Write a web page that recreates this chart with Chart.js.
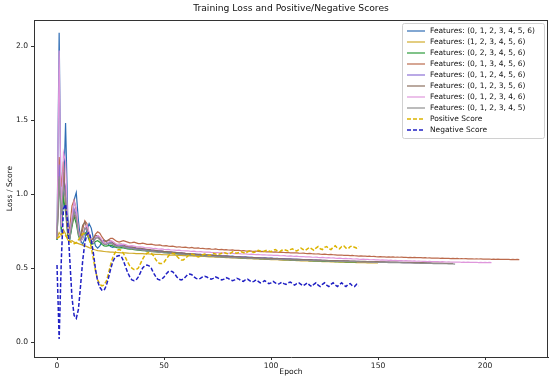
<!DOCTYPE html>
<html><head><meta charset="utf-8">
<script src="https://cdn.jsdelivr.net/npm/chart.js@4/dist/chart.umd.min.js"></script>
<style>html,body{margin:0;padding:0;background:#fff}#wrap{width:550px;height:381px}</style>
</head><body><div id="wrap"><canvas id="c" width="550" height="381"></canvas></div>
<script>
const chartTitle = "Training Loss and Positive/Negative Scores";
const xAxisLabel = "Epoch";
const yAxisLabel = "Loss / Score";
const xTicks = [0, 50, 100, 150, 200];
const yTicks = [0.0, 0.5, 1.0, 1.5, 2.0];
const seriesLabels = [
  "Features: (0, 1, 2, 3, 4, 5, 6)",
  "Features: (1, 2, 3, 4, 5, 6)",
  "Features: (0, 2, 3, 4, 5, 6)",
  "Features: (0, 1, 3, 4, 5, 6)",
  "Features: (0, 1, 2, 4, 5, 6)",
  "Features: (0, 1, 2, 3, 5, 6)",
  "Features: (0, 1, 2, 3, 4, 6)",
  "Features: (0, 1, 2, 3, 4, 5)",
  "Positive Score",
  "Negative Score"
];

const loss0123456 = [
0.69,2.09,0.74,0.98,1.48,0.86,0.70,0.80,0.96,1.01,
0.82,0.69,0.66,0.70,0.76,0.80,0.77,0.70,0.65,0.635,
0.65,0.675,0.69,0.68,0.66,0.645,0.64,0.645,0.655,0.66,
0.655,0.645,0.638,0.635,0.637,0.64,0.636,0.63,0.627,0.628,
0.626,0.622,0.62,0.621,0.618,0.615,0.616,0.613,0.611,0.612,
0.61,0.607,0.608,0.605,0.604,0.605,0.602,0.6,0.601,0.598,
0.597,0.598,0.595,0.594,0.595,0.592,0.591,0.592,0.589,0.588,
0.589,0.587,0.586,0.587,0.584,0.583,0.584,0.582,0.581,0.582,
0.58,0.579,0.58,0.577,0.576,0.577,0.575,0.574,0.575,0.573,
0.572,0.573,0.571,0.57,0.571,0.569,0.568,0.569,0.567,0.566,
0.567,0.565,0.564,0.565,0.563,0.562,0.563,0.561,0.56,0.561,
0.559,0.558,0.559,0.557,0.556,0.557,0.555,0.554,0.555,0.553,
0.552,0.553,0.551,0.55,0.551,0.549,0.548,0.549,0.547];

const loss123456 = [
0.70,0.74,0.72,0.76,0.73,0.69,0.68,0.685,0.675,0.67,
0.665,0.66,0.655,0.65,0.645,0.638,0.632,0.627,0.622,0.618,
0.616,0.614,0.612,0.61,0.609,0.608,0.607,0.606,0.605,0.604,
0.603,0.603,0.602,0.601,0.6,0.6,0.599,0.598,0.598,0.597,
0.597,0.596,0.596,0.595,0.594,0.594,0.593,0.592,0.592,0.591,
0.59,0.59,0.589,0.588,0.588,0.587,0.586,0.586,0.585,0.584,
0.584,0.583,0.582,0.582,0.581,0.58,0.58,0.579,0.578,0.578,
0.577,0.576,0.576,0.575,0.574,0.574,0.573,0.572,0.572,0.571,
0.57,0.57,0.569,0.568,0.568,0.567,0.566,0.566,0.565,0.564,
0.564,0.563,0.562,0.562,0.561,0.56,0.56,0.559,0.559,0.558,
0.557,0.557,0.556,0.556,0.555,0.554,0.554,0.553,0.553,0.552,
0.552,0.551,0.55,0.55,0.549,0.549,0.548,0.548,0.547,0.547,
0.546,0.546,0.545,0.545,0.544,0.544,0.543,0.543,0.542,0.542,
0.541,0.541,0.54,0.54,0.54,0.539,0.539,0.538,0.538,0.538,
0.537,0.537,0.536,0.536,0.536,0.535,0.535,0.535,0.534,0.534,0.534];

const loss023456 = [
0.69,1.15,0.76,0.98,0.88,0.72,0.70,0.78,0.85,0.80,
0.72,0.68,0.70,0.74,0.73,0.69,0.66,0.665,0.68,0.685,
0.675,0.66,0.65,0.648,0.652,0.655,0.65,0.643,0.638,0.637,
0.638,0.636,0.632,0.629,0.628,0.627,0.625,0.622,0.621,0.62,
0.618,0.617,0.615,0.614,0.613,0.611,0.61,0.609,0.607,0.606,
0.605,0.604,0.602,0.601,0.6,0.599,0.598,0.596,0.595,0.594,
0.593,0.592,0.591,0.59,0.589,0.588,0.587,0.586,0.585,0.584,
0.583,0.582,0.581,0.58,0.579,0.579,0.578,0.577,0.576,0.575,
0.575,0.574,0.573,0.572,0.572,0.571,0.57,0.569,0.569,0.568,
0.567,0.567,0.566,0.565,0.565,0.564,0.563,0.563,0.562,0.561,
0.561,0.56,0.56,0.559,0.558,0.558,0.557,0.557,0.556,0.555,
0.555,0.554,0.554,0.553,0.553,0.552,0.551,0.551,0.55,0.55,
0.549,0.549,0.548,0.548,0.547,0.547,0.546,0.546,0.545,0.545,
0.544,0.544,0.543,0.543,0.543,0.542,0.542,0.541,0.541,0.541,0.54];

const loss013456 = [
0.70,1.25,1.05,1.22,0.92,0.74,0.78,0.92,0.96,0.89,
0.75,0.70,0.76,0.82,0.80,0.73,0.69,0.70,0.73,0.745,
0.735,0.71,0.69,0.68,0.69,0.70,0.70,0.69,0.68,0.675,
0.68,0.685,0.68,0.675,0.67,0.672,0.675,0.67,0.665,0.665,
0.668,0.665,0.66,0.66,0.662,0.658,0.655,0.655,0.657,0.652,
0.65,0.652,0.648,0.646,0.648,0.645,0.642,0.644,0.641,0.64,
0.641,0.638,0.637,0.639,0.635,0.634,0.636,0.632,0.633,0.631,
0.63,0.631,0.628,0.627,0.629,0.626,0.625,0.626,0.623,0.624,
0.622,0.621,0.623,0.62,0.619,0.62,0.617,0.618,0.616,0.615,
0.616,0.614,0.613,0.615,0.612,0.611,0.612,0.61,0.609,0.61,
0.609,0.608,0.609,0.607,0.606,0.607,0.605,0.604,0.605,0.603,
0.603,0.602,0.603,0.601,0.6,0.601,0.599,0.598,0.599,0.597,
0.596,0.595,0.596,0.594,0.593,0.594,0.592,0.591,0.592,0.59,
0.589,0.588,0.587,0.588,0.586,0.585,0.586,0.584,0.585,0.583,
0.582,0.581,0.582,0.58,0.581,0.579,0.58,0.578,0.579,0.577,
0.576,0.577,0.575,0.576,0.574,0.575,0.574,0.575,0.573,0.574,
0.573,0.574,0.572,0.573,0.571,0.572,0.571,0.572,0.57,0.571,
0.57,0.569,0.57,0.568,0.569,0.567,0.568,0.567,0.568,0.566,
0.567,0.566,0.565,0.566,0.564,0.565,0.564,0.565,0.563,0.564,
0.563,0.564,0.562,0.563,0.562,0.561,0.562,0.561,0.562,0.56,
0.561,0.56,0.561,0.559,0.56,0.559,0.56,0.558,0.559,0.558,
0.559,0.558,0.557,0.558,0.557,0.558,0.557];

const loss012456 = [
0.70,1.20,0.82,1.10,1.05,0.78,0.72,0.82,0.90,0.86,
0.74,0.69,0.71,0.76,0.77,0.72,0.68,0.68,0.705,0.715,
0.70,0.68,0.665,0.662,0.67,0.675,0.668,0.658,0.652,0.65,
0.652,0.65,0.645,0.641,0.64,0.638,0.635,0.633,0.632,0.63,
0.628,0.626,0.625,0.623,0.621,0.62,0.618,0.617,0.615,0.614,
0.612,0.611,0.61,0.608,0.607,0.606,0.604,0.603,0.602,0.601,
0.599,0.598,0.597,0.596,0.595,0.594,0.593,0.592,0.591,0.59,
0.589,0.588,0.587,0.586,0.585,0.584,0.583,0.583,0.582,0.581,
0.58,0.579,0.578,0.578,0.577,0.576,0.575,0.575,0.574,0.573,
0.572,0.572,0.571,0.57,0.57,0.569,0.568,0.568,0.567,0.566,
0.566,0.565,0.565,0.564,0.563,0.563,0.562,0.562,0.561,0.56,
0.56,0.559,0.559,0.558,0.558,0.557,0.556,0.556,0.555,0.555,
0.554,0.554,0.553,0.553,0.552,0.552,0.551,0.551,0.55,0.55,
0.549,0.549,0.548,0.548,0.548,0.547,0.547,0.546,0.546,0.546,
0.545,0.545,0.544,0.544,0.544,0.543,0.543,0.542,0.542,0.542,
0.541,0.541,0.541,0.54,0.54,0.54,0.539,0.539,0.539,0.538,
0.538,0.538,0.537,0.537,0.537,0.536,0.536,0.536,0.535,0.535,
0.535,0.534,0.534,0.534,0.533,0.533];

const loss012356 = [
0.70,1.10,0.90,1.15,0.95,0.76,0.74,0.80,0.86,0.83,
0.74,0.72,0.79,0.81,0.77,0.71,0.69,0.70,0.72,0.72,
0.70,0.685,0.675,0.68,0.69,0.685,0.672,0.662,0.658,0.66,
0.662,0.656,0.65,0.646,0.645,0.643,0.64,0.637,0.635,0.634,
0.631,0.629,0.627,0.625,0.623,0.622,0.62,0.618,0.617,0.615,
0.613,0.612,0.61,0.609,0.607,0.606,0.605,0.603,0.602,0.601,
0.599,0.598,0.597,0.595,0.594,0.593,0.592,0.591,0.59,0.589,
0.588,0.587,0.586,0.585,0.584,0.583,0.582,0.581,0.58,0.58,
0.579,0.578,0.577,0.576,0.576,0.575,0.574,0.573,0.573,0.572,
0.571,0.571,0.57,0.569,0.569,0.568,0.567,0.567,0.566,0.565,
0.565,0.564,0.564,0.563,0.562,0.562,0.561,0.561,0.56,0.56,
0.559,0.559,0.558,0.558,0.557,0.557,0.556,0.556,0.555,0.555,
0.554,0.554,0.553,0.553,0.552,0.552,0.552,0.551,0.551,0.55,
0.55,0.55,0.549,0.549,0.548,0.548,0.548,0.547,0.547,0.547,
0.546,0.546,0.545,0.545,0.545,0.544,0.544,0.544,0.543,0.543,
0.543,0.542,0.542,0.542,0.541,0.541,0.541,0.54,0.54,0.54,
0.539,0.539,0.539,0.538,0.538,0.538,0.537,0.537,0.537,0.536,
0.536,0.536,0.535,0.535,0.535,0.534,0.534,0.534,0.533,0.533,
0.533,0.532,0.532,0.532,0.531,0.531];

const loss012346 = [
0.70,1.97,0.78,1.28,1.22,0.80,0.72,0.85,0.95,0.90,
0.76,0.68,0.70,0.77,0.79,0.74,0.68,0.67,0.70,0.72,
0.71,0.69,0.67,0.665,0.675,0.685,0.68,0.67,0.66,0.658,
0.66,0.662,0.658,0.652,0.65,0.651,0.648,0.645,0.643,0.644,
0.641,0.638,0.637,0.636,0.634,0.632,0.633,0.63,0.628,0.629,
0.626,0.625,0.626,0.623,0.622,0.621,0.62,0.621,0.618,0.617,
0.616,0.617,0.614,0.613,0.614,0.611,0.61,0.611,0.609,0.608,
0.607,0.608,0.606,0.605,0.604,0.605,0.603,0.602,0.603,0.601,
0.6,0.601,0.599,0.598,0.597,0.598,0.596,0.595,0.596,0.594,
0.593,0.594,0.592,0.591,0.592,0.59,0.589,0.59,0.588,0.587,
0.588,0.586,0.585,0.586,0.584,0.583,0.584,0.582,0.581,0.582,
0.58,0.579,0.58,0.578,0.577,0.578,0.576,0.575,0.576,0.574,
0.573,0.574,0.572,0.571,0.572,0.57,0.569,0.57,0.568,0.569,
0.567,0.566,0.567,0.565,0.564,0.565,0.563,0.564,0.562,0.561,
0.562,0.56,0.559,0.56,0.558,0.559,0.557,0.556,0.557,0.555,
0.556,0.554,0.555,0.553,0.554,0.552,0.553,0.551,0.552,0.55,
0.551,0.55,0.549,0.55,0.548,0.549,0.547,0.548,0.546,0.547,
0.546,0.545,0.546,0.544,0.545,0.544,0.543,0.544,0.543,0.542,
0.543,0.542,0.541,0.542,0.541,0.54,0.541,0.54,0.541,0.539,
0.54,0.539,0.54,0.538,0.539,0.538,0.539,0.537,0.538,0.537,
0.538,0.537,0.538,0.537];

const loss012345 = [
0.70,1.12,0.86,1.05,0.98,0.76,0.71,0.80,0.88,0.84,
0.73,0.69,0.72,0.77,0.76,0.71,0.675,0.68,0.70,0.705,
0.69,0.672,0.66,0.66,0.667,0.668,0.66,0.65,0.645,0.645,
0.647,0.643,0.638,0.634,0.632,0.631,0.628,0.625,0.623,0.622,
0.62,0.618,0.616,0.614,0.613,0.611,0.609,0.608,0.606,0.605,
0.603,0.602,0.6,0.599,0.598,0.596,0.595,0.594,0.593,0.592,
0.59,0.589,0.588,0.587,0.586,0.585,0.584,0.583,0.582,0.581,
0.58,0.579,0.578,0.578,0.577,0.576,0.575,0.574,0.574,0.573,
0.572,0.571,0.571,0.57,0.569,0.569,0.568,0.567,0.567,0.566,
0.565,0.565,0.564,0.563,0.563,0.562,0.562,0.561,0.56,0.56,
0.559,0.559,0.558,0.558,0.557,0.557,0.556,0.556,0.555,0.555,
0.554,0.554,0.553,0.553,0.552,0.552,0.551,0.551,0.55,0.55,
0.55,0.549,0.549,0.548,0.548,0.548,0.547,0.547,0.546,0.546,
0.546,0.545,0.545,0.545,0.544,0.544,0.544,0.543,0.543,0.543,
0.542,0.542,0.542,0.541,0.541,0.541,0.54,0.54,0.54,0.539,
0.539,0.539,0.538,0.538,0.538,0.537,0.537,0.537,0.536,0.536,
0.536,0.535,0.535,0.535,0.534,0.534,0.534,0.533,0.533,0.533,
0.532,0.532,0.532,0.531,0.531,0.531,0.53,0.53,0.53,0.53,
0.529,0.529,0.529,0.528,0.528,0.528,0.527];

const positiveScore = [
0.70,0.71,0.73,0.74,0.72,0.70,0.68,0.67,0.665,0.67,
0.69,0.71,0.73,0.74,0.73,0.70,0.64,0.56,0.48,0.42,
0.39,0.38,0.385,0.41,0.46,0.52,0.57,0.60,0.62,0.625,
0.62,0.60,0.57,0.54,0.515,0.50,0.49,0.49,0.50,0.53,
0.56,0.585,0.60,0.605,0.60,0.585,0.56,0.54,0.53,0.53,
0.54,0.56,0.58,0.595,0.60,0.595,0.58,0.565,0.555,0.555,
0.565,0.58,0.59,0.595,0.59,0.58,0.575,0.58,0.59,0.595,
0.59,0.585,0.59,0.60,0.595,0.59,0.595,0.60,0.605,0.60,
0.595,0.60,0.61,0.605,0.60,0.605,0.61,0.605,0.60,0.61,
0.615,0.61,0.605,0.61,0.62,0.615,0.61,0.615,0.62,0.615,
0.61,0.62,0.625,0.615,0.61,0.62,0.625,0.62,0.615,0.625,
0.63,0.62,0.615,0.625,0.635,0.625,0.62,0.63,0.64,0.63,
0.62,0.635,0.645,0.63,0.625,0.64,0.645,0.63,0.625,0.64,
0.65,0.635,0.63,0.645,0.65,0.635,0.63,0.645,0.65,0.64,
0.635,0.645];

const negativeScore = [
0.52,0.02,0.55,0.90,0.93,0.80,0.55,0.30,0.18,0.16,
0.22,0.38,0.55,0.67,0.73,0.74,0.69,0.60,0.49,0.41,
0.37,0.35,0.35,0.38,0.43,0.49,0.54,0.57,0.58,0.585,
0.58,0.55,0.51,0.47,0.44,0.42,0.415,0.42,0.44,0.47,
0.50,0.515,0.52,0.515,0.50,0.47,0.445,0.425,0.42,0.425,
0.44,0.46,0.475,0.48,0.475,0.46,0.44,0.425,0.42,0.425,
0.44,0.455,0.46,0.455,0.44,0.43,0.425,0.43,0.44,0.445,
0.44,0.43,0.425,0.43,0.44,0.435,0.425,0.42,0.425,0.435,
0.43,0.42,0.415,0.42,0.43,0.425,0.415,0.41,0.42,0.425,
0.415,0.405,0.41,0.42,0.41,0.40,0.405,0.415,0.405,0.395,
0.40,0.41,0.40,0.39,0.395,0.405,0.395,0.39,0.40,0.405,
0.395,0.385,0.395,0.40,0.39,0.38,0.39,0.40,0.385,0.375,
0.39,0.40,0.385,0.375,0.39,0.40,0.385,0.375,0.39,0.40,
0.385,0.375,0.39,0.40,0.385,0.375,0.39,0.395,0.38,0.375,
0.39,0.38];

const seriesValues = [loss0123456, loss123456, loss023456, loss013456, loss012456, loss012356, loss012346, loss012345, positiveScore, negativeScore];
const seriesColors = ['#2f6db5','#d1ab2a','#2a9a3a','#bb6a4c','#8b6fd6','#8c6f5e','#df97dc','#8f8f8f','#dcb400','#2020c4'];
const seriesDash = [[],[],[],[],[],[],[],[],[4,2],[4,2]];

const FONT = "'DejaVu Sans', 'Liberation Sans', sans-serif";

const datasets = seriesValues.map((vals, i) => ({
  label: seriesLabels[i],
  data: vals.map((v, k) => ({x: k, y: v})),
  borderColor: seriesColors[i],
  backgroundColor: seriesColors[i],
  borderWidth: i >= 8 ? 1.5 : 1.2,
  borderDash: seriesDash[i],
  pointRadius: 0,
  tension: 0,
  fill: false,
  order: seriesValues.length - i
}));

const decorPlugin = {
  id: 'decor',
  afterDraw(chart) {
    const ctx = chart.ctx;
    const a = chart.chartArea;
    ctx.save();
    ctx.strokeStyle = '#333';
    ctx.lineWidth = 1;
    ctx.beginPath();
    ctx.moveTo(a.left, a.top + 0.5); ctx.lineTo(a.right, a.top + 0.5);
    ctx.moveTo(a.right - 0.5, a.top); ctx.lineTo(a.right - 0.5, a.bottom);
    ctx.stroke();
    ctx.fillStyle = '#111';
    ctx.font = '9.2px ' + FONT;
    ctx.textAlign = 'center';
    ctx.textBaseline = 'middle';
    ctx.fillText(chartTitle, (a.left + a.right) / 2, 9);
    const bx = 402, by = 23, bw = 142, bh = 115;
    ctx.fillStyle = 'rgba(255,255,255,0.8)';
    ctx.strokeStyle = '#d0d0d0';
    ctx.lineWidth = 1;
    ctx.beginPath();
    if (ctx.roundRect) ctx.roundRect(bx + 0.5, by + 0.5, bw, bh, 2); else ctx.rect(bx + 0.5, by + 0.5, bw, bh);
    ctx.fill(); ctx.stroke();
    ctx.font = '7.5px ' + FONT;
    ctx.textAlign = 'left';
    ctx.textBaseline = 'middle';
    seriesLabels.forEach((lab, i) => {
      const y = by + 8 + i * 11;
      ctx.strokeStyle = seriesColors[i];
      ctx.lineWidth = i >= 8 ? 1.5 : 1.2;
      ctx.setLineDash(seriesDash[i]);
      ctx.beginPath();
      ctx.moveTo(407, y); ctx.lineTo(425, y);
      ctx.stroke();
      ctx.setLineDash([]);
      ctx.fillStyle = '#111';
      ctx.fillText(lab, 430, y);
    });
    ctx.restore();
  }
};

new Chart(document.getElementById('c'), {
  type: 'line',
  data: { datasets },
  plugins: [decorPlugin],
  options: {
    responsive: false,
    animation: false,
    devicePixelRatio: 1,
    layout: { padding: { left: 0, top: 20, right: 2, bottom: 0 } },
    plugins: { legend: { display: false }, title: { display: false }, tooltip: { enabled: false } },
    scales: {
      x: {
        type: 'linear',
        min: -10.75, max: 229.4,
        afterBuildTicks: s => { s.ticks = xTicks.map(v => ({ value: v })); },
        afterFit: s => { s.height = 24; },
        grid: { display: true, drawOnChartArea: false, drawTicks: true, tickLength: 3, tickColor: '#333', color: '#333' },
        border: { display: true, color: '#333', width: 1 },
        ticks: { color: '#222', font: { family: FONT, size: 7.6 }, padding: 1, maxRotation: 0, callback: v => String(v) },
        title: { display: true, text: xAxisLabel, color: '#111', font: { family: FONT, size: 7.6 }, padding: { top: 0, bottom: 4 } }
      },
      y: {
        type: 'linear',
        min: -0.101, max: 2.176,
        afterBuildTicks: s => { s.ticks = yTicks.map(v => ({ value: v })); },
        afterFit: s => { s.width = 34; },
        grid: { display: true, drawOnChartArea: false, drawTicks: true, tickLength: 3, tickColor: '#333', color: '#333' },
        border: { display: true, color: '#333', width: 1 },
        ticks: { color: '#222', font: { family: FONT, size: 7.6 }, padding: 3, callback: v => Number(v).toFixed(1) },
        title: { display: true, text: yAxisLabel, color: '#111', font: { family: FONT, size: 7.6 }, padding: { top: 5, bottom: 0 } }
      }
    }
  }
});
</script>
</body></html>
